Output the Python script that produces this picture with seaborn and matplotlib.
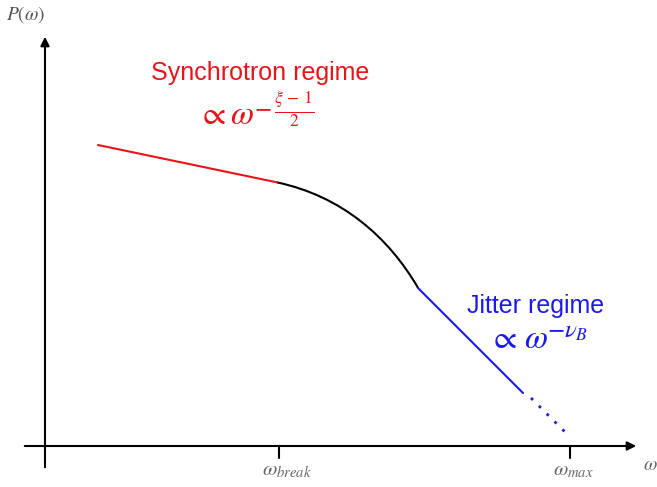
import matplotlib
matplotlib.use("Agg")
import matplotlib.pyplot as plt
from matplotlib.path import Path
from matplotlib.patches import PathPatch
import seaborn as sns
import numpy as np
import pandas as pd

sns.set_theme(style="white")
plt.rcParams['font.family'] = ['Liberation Sans', 'DejaVu Sans']
plt.rcParams['mathtext.fontset'] = 'stix'

# Data (pixel-like coordinates, y grows downward)
sync_x = [98, 276.7]
sync_y = [145, 182.3]
# cubic Bezier control points of the transition (break) region
curve_x = [276.7, 341.7, 388.3, 418.3]
curve_y = [182.3, 196.1, 236.7, 288.3]
jit_x = [418.3, 523]
jit_y = [288.3, 393]
dot_x = [531, 565]
dot_y = [398, 432]
tick_pos = [279, 570]
tick_labels = [r'$\omega_{break}$', r'$\omega_{max}$']
tick_label_x = [287, 573]

RED = '#e8141a'
BLUE = '#1a1aee'

fig = plt.figure(figsize=(6.57, 4.87), dpi=100)
ax = fig.add_axes([0, 0, 1, 1])
ax.set_xlim(0, 657)
ax.set_ylim(487, 0)
ax.axis('off')

# axes with arrows
ax.annotate('', xy=(45, 34), xytext=(45, 470),
            arrowprops=dict(arrowstyle='-|>', color='black', lw=1.5, mutation_scale=13))
ax.annotate('', xy=(639, 446), xytext=(22, 446),
            arrowprops=dict(arrowstyle='-|>', color='black', lw=1.5, mutation_scale=13))
for t, lx, lab in zip(tick_pos, tick_label_x, tick_labels):
    ax.plot([t, t], [446, 458], color='black', lw=1.5)
    ax.text(lx, 470, lab, ha='center', va='center', color='#666666', fontsize=15)

ax.text(650, 465, r'$\omega$', ha='center', va='center', color='#666666', fontsize=14)
ax.text(26, 15, r'$P(\omega)$', ha='center', va='center', color='#555555', fontsize=14)

sns.lineplot(x=sync_x, y=sync_y, ax=ax, color=RED, lw=1.5, sort=False)
path = Path(list(zip(curve_x, curve_y)),
            [Path.MOVETO, Path.CURVE4, Path.CURVE4, Path.CURVE4])
ax.add_patch(PathPatch(path, facecolor='none', edgecolor='black', lw=1.5))
sns.lineplot(x=jit_x, y=jit_y, ax=ax, color=BLUE, lw=1.5, sort=False)
ax.plot(dot_x, dot_y, color=BLUE, lw=2, linestyle=(0, (1, 3.0)))

# Synchrotron annotation
ax.text(260, 73, 'Synchrotron regime', ha='center', va='center', color=RED, fontsize=18)
ax.text(212, 116, r'$\propto$', ha='center', va='center', color=RED, fontsize=24)
ax.text(242, 116, r'$\omega$', ha='center', va='center', color=RED, fontsize=24)
ax.text(254, 109, r'$-\,\frac{\xi\,-\,1}{2}$', ha='left', va='center', color=RED, fontsize=18)

# Jitter annotation
ax.text(536, 306, 'Jitter regime', ha='center', va='center', color=BLUE, fontsize=18)
ax.text(503, 340, r'$\propto$', ha='center', va='center', color=BLUE, fontsize=24)
ax.text(536, 340, r'$\omega$', ha='center', va='center', color=BLUE, fontsize=24)
ax.text(547, 331, r'$-\nu_B$', ha='left', va='center', color=BLUE, fontsize=18)

fig.savefig('out.png', dpi=100)
